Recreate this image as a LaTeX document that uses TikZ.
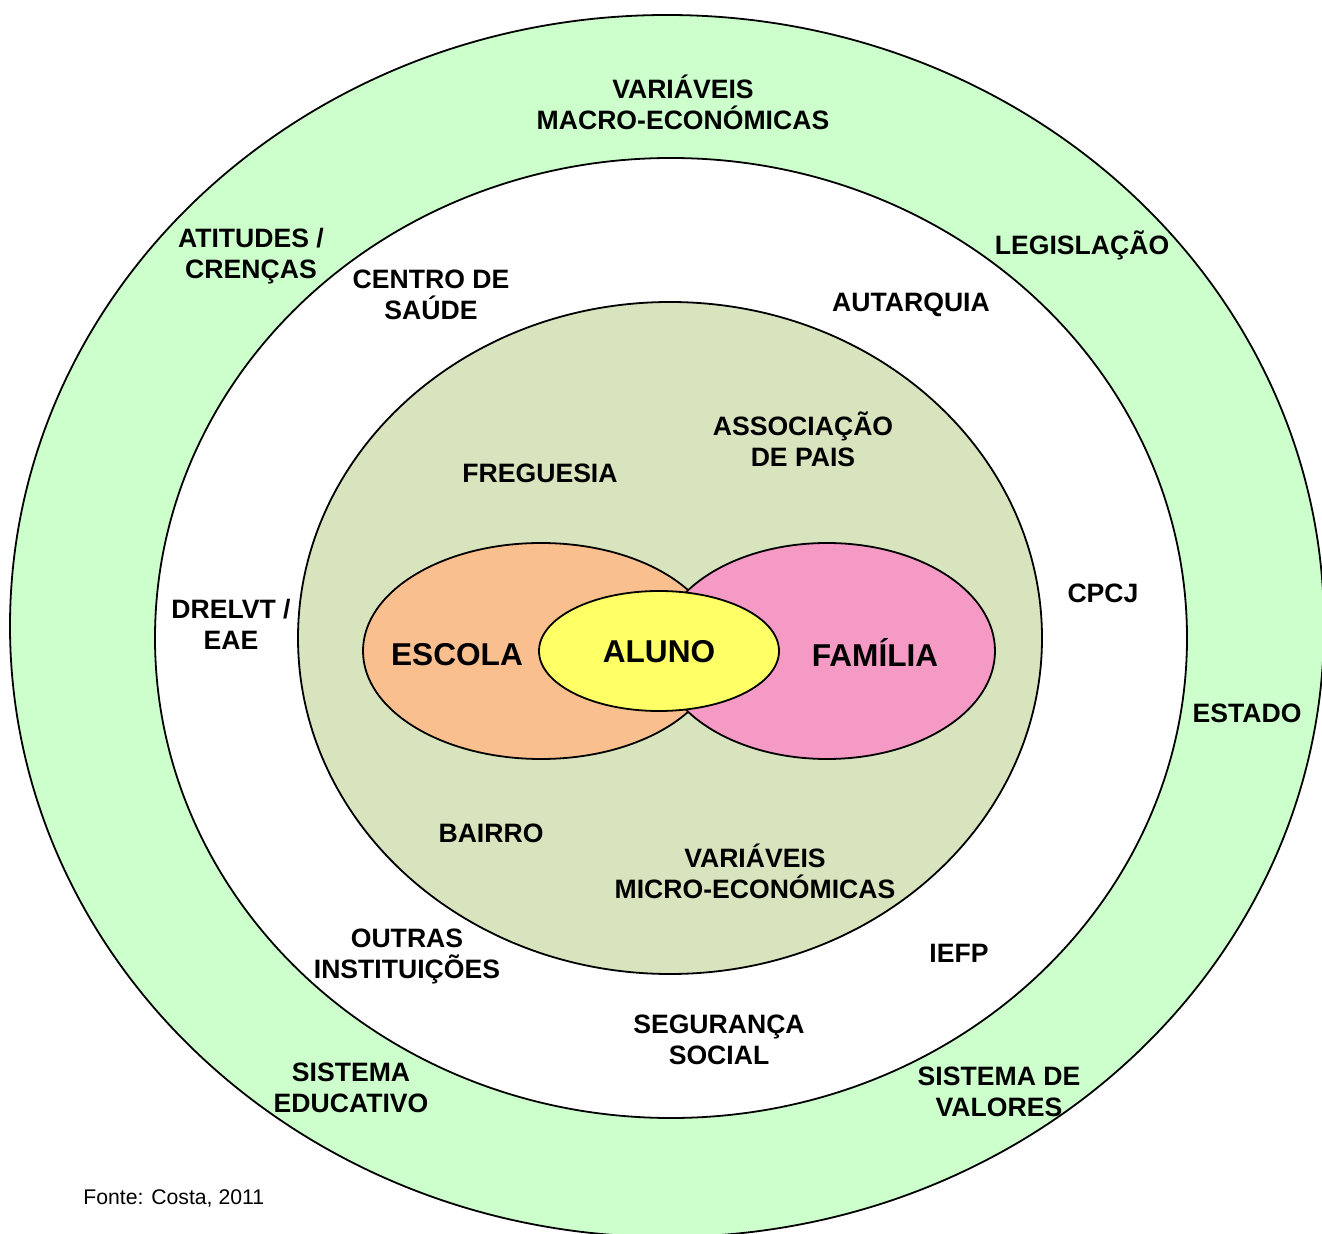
\documentclass[tikz,border=0pt]{standalone}
\usepackage{fontspec}
\setmainfont{Liberation Sans}
\usepackage{tikz}
\usetikzlibrary{positioning}

\definecolor{ringgreen}{HTML}{CCFFCC}
\definecolor{olive}{HTML}{D7E4BD}
\definecolor{escolacol}{HTML}{F9BF8F}
\definecolor{familiacol}{HTML}{F49AC5}
\definecolor{alunocol}{HTML}{FFFF66}

\begin{document}
\begin{tikzpicture}[x=0.5pt,y=-0.5pt,
    ring/.style={draw=black,line width=0.9pt},
    lbl/.style={font=\fontsize{13.3}{15.5}\selectfont\bfseries,align=center,inner sep=0pt},
    biglbl/.style={font=\fontsize{15.8}{18}\selectfont\bfseries,inner sep=0pt}]
    \useasboundingbox (0,0) rectangle (1322,1234);

    % rings
    \draw[ring,fill=ringgreen] (667,626) ellipse [x radius=657,y radius=611];
    \draw[ring,fill=white] (671,638) ellipse [x radius=516,y radius=480];
    \draw[ring,fill=olive] (670,638) ellipse [x radius=372,y radius=336];

    % escola, familia, aluno
    \draw[ring,fill=escolacol] (541,651) ellipse [x radius=178,y radius=108];
    \draw[ring,fill=familiacol] (827,651) ellipse [x radius=168,y radius=108];
    \draw[ring,fill=alunocol] (659,651) ellipse [x radius=120,y radius=60];

    \node[biglbl] (escola) at (457,655) {ESCOLA};
    \node[biglbl] (aluno) at (659,652) {ALUNO};
    \node[biglbl] (familia) at (875,652) {FAMÍLIA};

    % outer ring
    \node[lbl] (macro) at (683,102) {VARIÁVEIS\\MACRO-ECONÓMICAS};
    \node[lbl] (atitudes) at (251,256) {ATITUDES /\\CRENÇAS};
    \node[lbl] (legislacao) at (1082,245) {LEGISLAÇÃO};
    \node[lbl] (estado) at (1247,713) {ESTADO};
    \node[lbl] (sisedu) at (351,1088) {SISTEMA\\EDUCATIVO};
    \node[lbl] (sisval) at (999,1092) {SISTEMA DE\\VALORES};

    % middle ring
    \node[lbl] (saude) at (431,295) {CENTRO DE\\SAÚDE};
    \node[lbl] (autarquia) at (911,305) {AUTARQUIA};
    \node[lbl] (cpcj) at (1103,593) {CPCJ};
    \node[lbl] (drelvt) at (231,624) {DRELVT /\\EAE};
    \node[lbl] (outras) at (407,956) {OUTRAS\\INSTITUIÇÕES};
    \node[lbl] (iefp) at (959,953) {IEFP};
    \node[lbl] (seguranca) at (719,1040) {SEGURANÇA\\SOCIAL};

    % inner circle
    \node[lbl] (associacao) at (803,439) {ASSOCIAÇÃO\\DE PAIS};
    \node[lbl] (freguesia) at (540,473) {FREGUESIA};
    \node[lbl] (bairro) at (491,833) {BAIRRO};
    \node[lbl] (micro) at (755,871) {VARIÁVEIS\\MICRO-ECONÓMICAS};

    \node[font=\fontsize{10.6}{12}\selectfont,anchor=west,inner sep=0pt] (fonte) at (83,1198) {Fonte: Costa, 2011};
\end{tikzpicture}
\end{document}
